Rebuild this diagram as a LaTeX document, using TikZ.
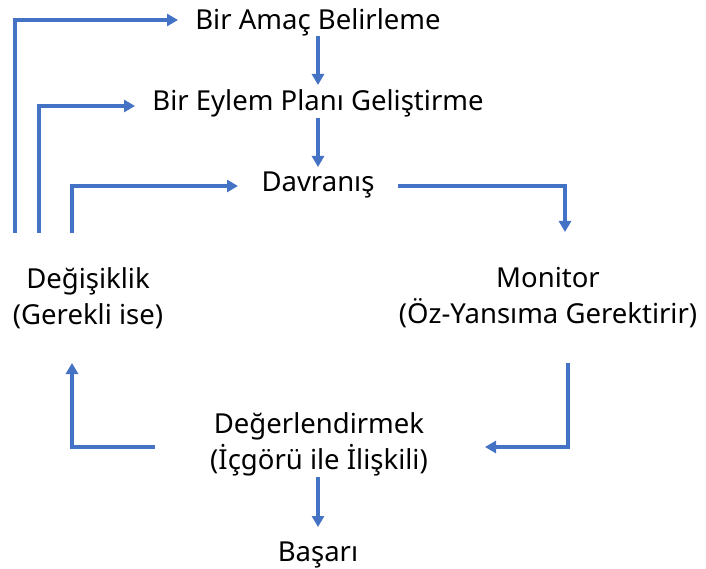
\documentclass[tikz,border=0pt]{standalone}
\usepackage{fontspec}
\setmainfont{Noto Sans}
\usetikzlibrary{arrows.meta}
\definecolor{flowblue}{HTML}{4472C4}
\begin{document}
\begin{tikzpicture}[x=1pt,y=-1pt,
  lbl/.style={inner sep=0pt, align=center, font=\fontsize{27.5}{36}\selectfont},
  arr/.style={draw=flowblue, line width=3.5pt, -{Triangle[width=12pt,length=11pt]}}]
\useasboundingbox (0,0) rectangle (706,569);
\node[lbl] (goal) at (318,22) {Bir Amaç Belirleme};
\node[lbl] (plan) at (318,103) {Bir Eylem Planı Geliştirme};
\node[lbl] (beh) at (318,185) {Davranış};
\node[lbl] (mon) at (548,298) {Monitor\\(Öz-Yansıma Gerektirir)};
\node[lbl] (chg) at (88,298) {Değişiklik\\(Gerekli ise)};
\node[lbl] (eval) at (319,444) {Değerlendirmek\\(İçgörü ile İlişkili)};
\node[lbl] (succ) at (318,555) {Başarı};
% connector ends
\coordinate (l1) at (15,233);
\coordinate (l2) at (39,233);
\coordinate (l3) at (72,233);
\coordinate (t1) at (178,20);
\coordinate (t2) at (135,106);
\coordinate (t3) at (238,186);
\coordinate (b1) at (398,186);
\coordinate (m1) at (565,232);
\coordinate (m2) at (568,363);
\coordinate (e1) at (485,447);
\coordinate (e2) at (155,447);
\coordinate (c1) at (72,363);
\draw[arr] (goal |- 0,36) -- (plan |- 0,85);
\draw[arr] (plan |- 0,118) -- (beh |- 0,167);
\draw[arr] (l1) |- (t1);
\draw[arr] (l2) |- (t2);
\draw[arr] (l3) |- (t3);
\draw[arr] (b1) -| (m1);
\draw[arr] (m2) |- (e1);
\draw[arr] (e2) -| (c1);
\draw[arr] (succ |- 0,477) -- (succ |- 0,527);
\end{tikzpicture}
\end{document}
